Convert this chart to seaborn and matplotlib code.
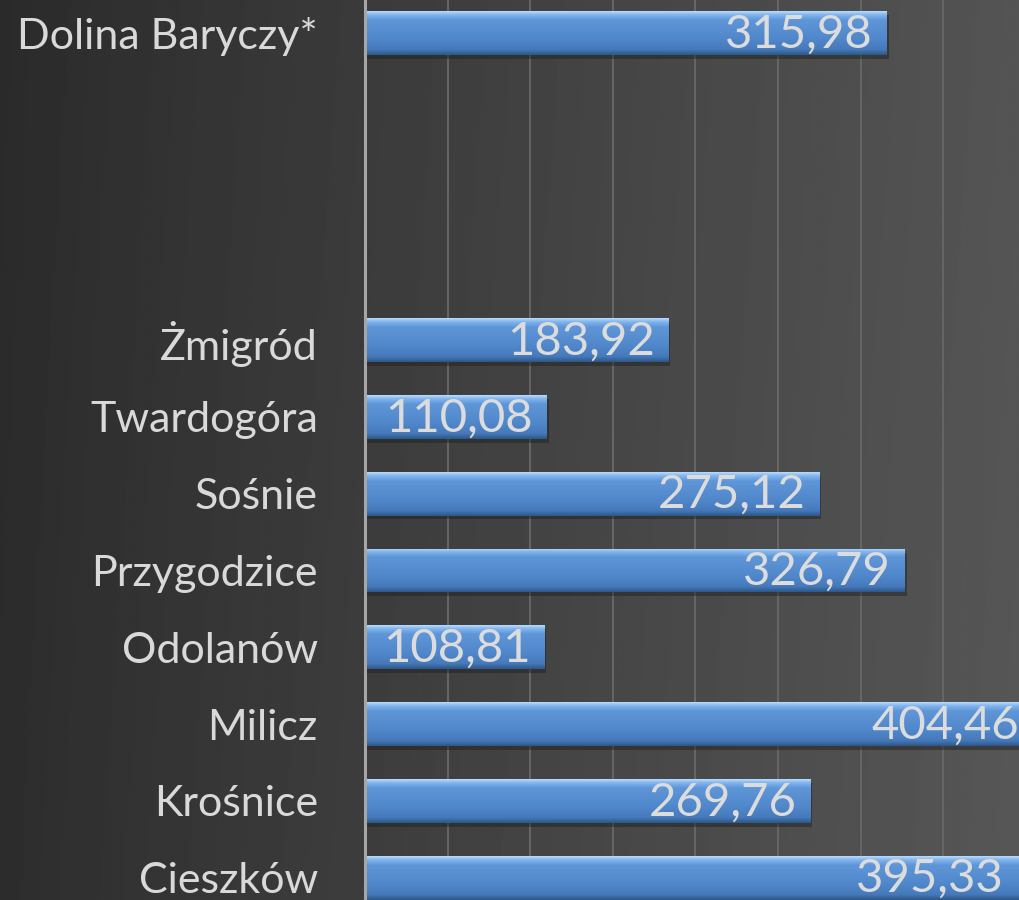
import matplotlib
matplotlib.use("Agg")
import matplotlib.pyplot as plt
import numpy as np
import pandas as pd
import seaborn as sns
from matplotlib.colors import LinearSegmentedColormap

# data
gminy = ["Dolina Baryczy*", "Żmigród", "Twardogóra", "Sośnie", "Przygodzice",
         "Odolanów", "Milicz", "Krośnice", "Cieszków"]
wartosci = [315.98, 183.92, 110.08, 275.12, 326.79, 108.81, 404.46, 269.76, 395.33]
# three empty slots between Dolina Baryczy* and the rest
kolejnosc = ["Dolina Baryczy*", " ", "  ", "   ", "Żmigród", "Twardogóra", "Sośnie",
             "Przygodzice", "Odolanów", "Milicz", "Krośnice", "Cieszków"]

df = pd.DataFrame({"gmina": gminy, "wartosc": wartosci})

sns.set_style("white")
plt.rcParams["font.family"] = ["Lato", "DejaVu Sans"]

W, H = 1019, 900
fig = plt.figure(figsize=(W / 100, H / 100), dpi=100)

# dark grey gradient background over the whole figure
bg = fig.add_axes([0, 0, 1, 1], zorder=0)
gx = np.linspace(0, 1, 400)[None, :]
gy = np.linspace(0, 1, 300)[:, None]
grad = 0.165 + 0.165 * gx ** 0.9 + 0.01 * gy
bg.imshow(grad, cmap="gray", vmin=0, vmax=1, aspect="auto", extent=[0, 1, 0, 1])
bg.axis("off")

x0 = 365 / W
ax = fig.add_axes([x0, 0, 1 - x0, 1], zorder=1)
ax.set_facecolor("none")

sns.barplot(data=df, x="wartosc", y="gmina", order=kolejnosc, orient="h",
            width=0.57, color="#4f86c9", linewidth=0, ax=ax, zorder=3)

ax.set_xlim(0, (W - 365) / 1.652)
ax.set_ylim(11.29, -0.43)
ax.set_xticks(np.arange(0, 401, 50))
ax.set_xticklabels([])
ax.grid(axis="x", color="#666666", lw=1.4, zorder=0)
ax.set_axisbelow(True)
ax.set_xlabel("")
ax.set_ylabel("")
for s in ["top", "right", "bottom"]:
    ax.spines[s].set_visible(False)
ax.spines["left"].set_color("#a6a6a6")
ax.spines["left"].set_linewidth(2.2)
ax.spines["left"].set_zorder(6)
ax.tick_params(axis="y", length=0, pad=34, labelsize=31, labelcolor="#d9d9d9")
ax.tick_params(axis="x", length=0)

# glossy vertical gradient on every bar
bar_cmap = LinearSegmentedColormap.from_list(
    "bar", [(0.0, "#b7dcff"), (0.07, "#86b8ef"), (0.2, "#5f96d8"),
            (0.65, "#5087ca"), (0.88, "#4579bb"), (1.0, "#2e5889")])
shade = np.linspace(0, 1, 100)[:, None]
for p in ax.patches:
    w = p.get_width()
    if not np.isfinite(w) or w <= 0:
        continue
    xb, yb, hb = p.get_x(), p.get_y(), p.get_height()
    shadow = plt.Rectangle((xb + 1.0, yb + 0.05), w, hb, color="#1e1e1e",
                           alpha=0.45, zorder=2, lw=0)
    ax.add_patch(shadow)
    im = ax.imshow(shade, cmap=bar_cmap, aspect="auto", zorder=4,
                   extent=[xb, xb + w, yb + hb, yb], interpolation="bilinear")
    im.set_clip_path(p)

ax.set_xlim(0, (W - 365) / 1.652)
ax.set_ylim(11.29, -0.43)

# value labels at the inner end of the bars
for g, v in zip(gminy, wartosci):
    y = kolejnosc.index(g)
    ax.annotate(f"{v:.2f}".replace(".", ","), xy=(v, y), xytext=(-10, -1),
                textcoords="offset points", ha="right", va="center",
                fontsize=34, color="#dcdcdc", zorder=7, annotation_clip=False)

fig.savefig("out.png", dpi=100)
